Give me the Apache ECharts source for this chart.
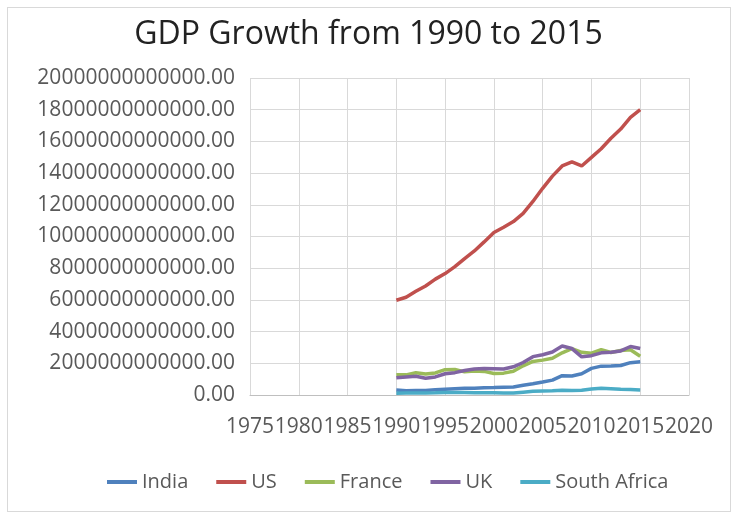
<!DOCTYPE html>
<html>
<head>
<meta charset="utf-8">
<script src="https://cdn.jsdelivr.net/npm/echarts@6/dist/echarts.min.js"></script>
<style>
  html, body { margin: 0; padding: 0; background: #fff; }
  #frame { position: absolute; left: 7px; top: 7px; width: 722px; height: 503px; border: 1px solid #d9d9d9; }
  #chart { width: 737px; height: 517px; }
</style>
</head>
<body>
<div id="frame"></div>
<div id="chart"></div>
<script>
// GDP, current US$, 1990-2015
var YEARS = [1990, 1991, 1992, 1993, 1994, 1995, 1996, 1997, 1998, 1999, 2000, 2001, 2002,
  2003, 2004, 2005, 2006, 2007, 2008, 2009, 2010, 2011, 2012, 2013, 2014, 2015];

var INDIA = [0.32, 0.27, 0.29, 0.28, 0.33, 0.36, 0.39, 0.42, 0.42, 0.46, 0.47, 0.49, 0.51,
  0.61, 0.71, 0.82, 0.94, 1.22, 1.20, 1.34, 1.68, 1.82, 1.83, 1.86, 2.04, 2.10];
var US = [5.98, 6.17, 6.54, 6.88, 7.31, 7.66, 8.10, 8.61, 9.09, 9.66, 10.25, 10.58, 10.94,
  11.46, 12.21, 13.04, 13.81, 14.45, 14.71, 14.45, 14.99, 15.54, 16.20, 16.78, 17.52, 18.00];
var FRANCE = [1.27, 1.27, 1.40, 1.32, 1.39, 1.60, 1.61, 1.46, 1.51, 1.49, 1.36, 1.38, 1.50,
  1.84, 2.12, 2.20, 2.32, 2.66, 2.92, 2.69, 2.64, 2.86, 2.68, 2.81, 2.85, 2.44];
var UK = [1.09, 1.14, 1.18, 1.06, 1.14, 1.34, 1.41, 1.55, 1.64, 1.67, 1.66, 1.64, 1.78,
  2.05, 2.42, 2.54, 2.71, 3.09, 2.93, 2.41, 2.48, 2.66, 2.70, 2.78, 3.06, 2.93];
var SOUTH_AFRICA = [0.11, 0.12, 0.13, 0.13, 0.14, 0.16, 0.15, 0.15, 0.14, 0.14, 0.14, 0.12, 0.12,
  0.18, 0.23, 0.26, 0.27, 0.30, 0.29, 0.30, 0.38, 0.42, 0.40, 0.37, 0.35, 0.32];

var SERIES_NAMES = ['India', 'US', 'France', 'UK', 'South Africa'];
var SERIES_VALUES = [INDIA, US, FRANCE, UK, SOUTH_AFRICA];
var COLORS = ['#4F81BD', '#C0504D', '#9BBB59', '#8064A2', '#4BACC6'];
var TRILLION = 1e12;

var TEXT_COLOR = '#595959';
var FONT = '"Open Sans", "Liberation Sans", sans-serif';

function toPairs(values) {
  return YEARS.map(function(y, i) { return [y, values[i] * TRILLION]; });
}

var series = SERIES_NAMES.map(function(name, i) {
  return {
    name: name,
    type: 'line',
    data: toPairs(SERIES_VALUES[i]),
    symbol: 'none',
    lineStyle: { width: 3.5, color: COLORS[i] },
    itemStyle: { color: COLORS[i] }
  };
});

var chart = echarts.init(document.getElementById('chart'), null, { renderer: 'canvas' });
chart.setOption({
  animation: false,
  title: {
    text: 'GDP Growth from 1990 to 2015',
    left: 'center',
    top: 14,
    textStyle: { fontFamily: FONT, fontSize: 32, fontWeight: 'normal', color: '#222' }
  },
  grid: { left: 250, right: 48, top: 78, bottom: 122 },
  legend: {
    data: SERIES_NAMES,
    bottom: 20,
    left: 102,
    icon: 'rect',
    itemWidth: 30,
    itemHeight: 4,
    itemGap: 28,
    textStyle: { fontFamily: FONT, fontSize: 20, color: TEXT_COLOR }
  },
  xAxis: {
    type: 'value',
    min: 1975,
    max: 2020,
    interval: 5,
    axisLine: { show: true, lineStyle: { color: '#bfbfbf', width: 1 } },
    axisTick: { show: false },
    splitLine: { show: true, lineStyle: { color: '#d9d9d9', width: 1 } },
    axisLabel: {
      fontFamily: FONT, fontSize: 21, color: TEXT_COLOR, margin: 22,
      showMinLabel: true, showMaxLabel: true, hideOverlap: false,
      formatter: function(v) { return String(v); }
    }
  },
  yAxis: {
    type: 'value',
    min: 0,
    max: 20 * TRILLION,
    interval: 2 * TRILLION,
    axisLine: { show: false },
    axisTick: { show: false },
    splitLine: { show: true, lineStyle: { color: '#d9d9d9', width: 1 } },
    axisLabel: {
      fontFamily: FONT, fontSize: 21, color: TEXT_COLOR, margin: 15,
      formatter: function(v) { return v.toFixed(2); }
    }
  },
  series: series
});
</script>
</body>
</html>
